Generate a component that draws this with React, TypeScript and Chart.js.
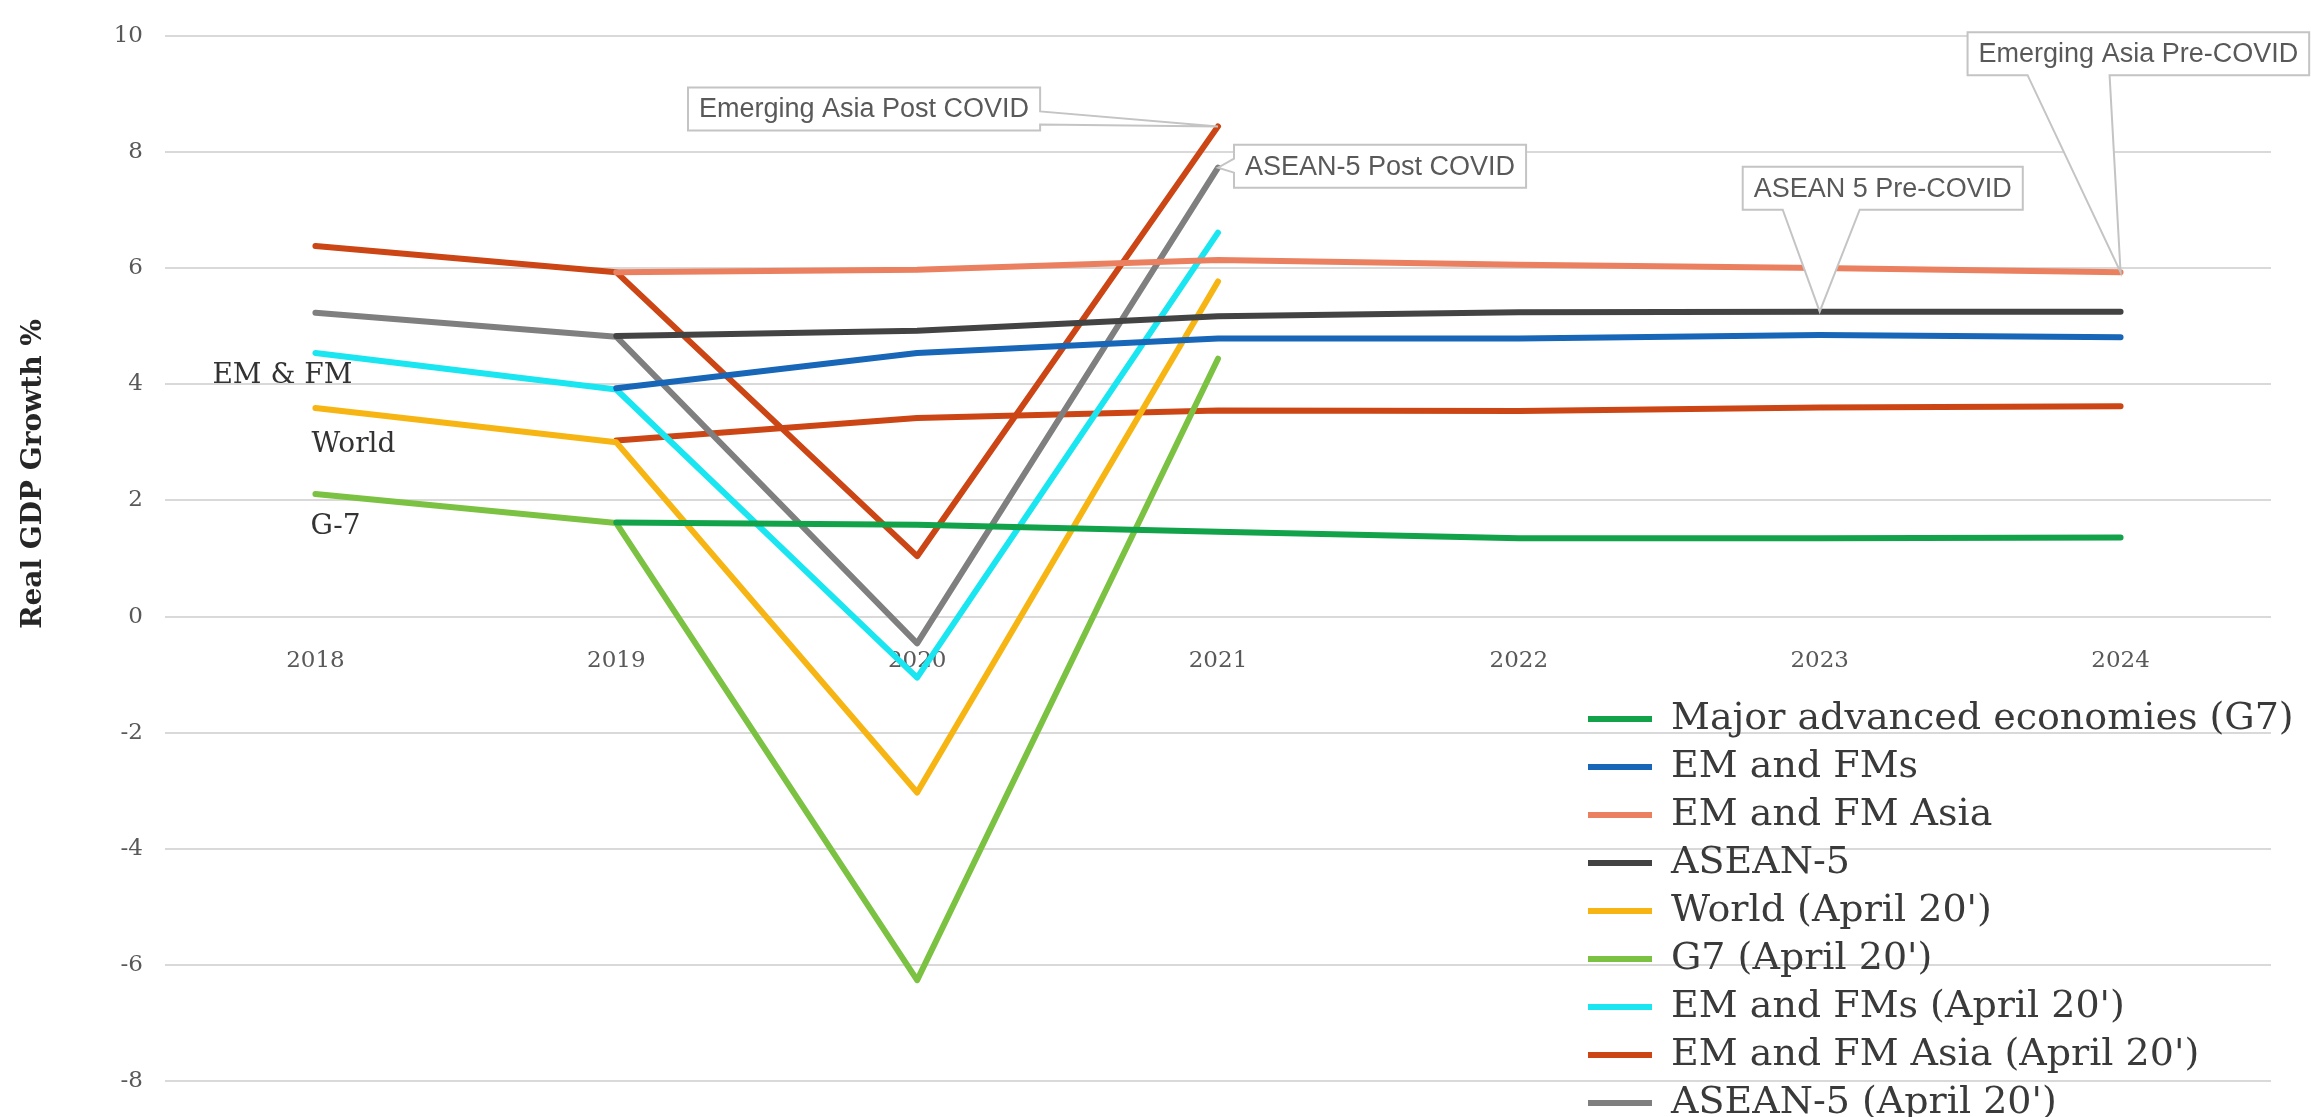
import React, { useEffect, useRef } from 'react';
import { Chart, registerables } from 'chart.js';

Chart.register(...registerables);

// ---------- data ----------
const categories = ['2018', '2019', '2020', '2021', '2022', '2023', '2024'];
const yMin = -8;
const yMax = 10;
const yStep = 2;

const seriesNames = [
  'Major advanced economies (G7)',
  'EM and FMs',
  'EM and FM Asia',
  'ASEAN-5',
  "World (April 20')",
  "G7 (April 20')",
  "EM and FMs (April 20')",
  "EM and FM Asia (April 20')",
  "ASEAN-5 (April 20')",
  'World',
];

const g7Current = [null, 1.62, 1.58, 1.46, 1.35, 1.35, 1.36];
const emfmCurrent = [null, 3.93, 4.54, 4.79, 4.79, 4.85, 4.81];
const emfmAsiaCurrent = [null, 5.93, 5.97, 6.14, 6.06, 6.0, 5.93];
const asean5Current = [null, 4.83, 4.92, 5.17, 5.24, 5.25, 5.25];
const worldApril = [3.59, 3.0, -3.03, 5.77, null, null, null];
const g7April = [2.11, 1.61, -6.26, 4.44, null, null, null];
const emfmApril = [4.54, 3.91, -1.05, 6.61, null, null, null];
const emfmAsiaApril = [6.38, 5.93, 1.04, 8.44, null, null, null];
const asean5April = [5.23, 4.82, -0.46, 7.73, null, null, null];
const worldCurrent = [null, 3.03, 3.42, 3.55, 3.54, 3.6, 3.62];

const seriesValues = [
  g7Current,
  emfmCurrent,
  emfmAsiaCurrent,
  asean5Current,
  worldApril,
  g7April,
  emfmApril,
  emfmAsiaApril,
  asean5April,
  worldCurrent,
];

const calloutTexts = ['Emerging Asia Post COVID', 'ASEAN-5 Post COVID', 'ASEAN 5 Pre-COVID', 'Emerging Asia Pre-COVID'];
const calloutSeries = [7, 8, 3, 2];
const calloutCategory = [3, 3, 5, 6];

const inlineLabelTexts = ['EM & FM', 'World', 'G-7'];
const yAxisTitle = 'Real GDP Growth %';

// ---------- styles ----------
const seriesColors = [
  '#12a24a',
  '#1866b8',
  '#ea8060',
  '#434343',
  '#f6b512',
  '#7cc242',
  '#19e6f0',
  '#cc4514',
  '#7f7f7f',
  '#cc4514',
];

const W = 2311;
const H = 1117;
const SERIF = '"DejaVu Serif", serif';
const SANS = '"Liberation Sans", Arial, sans-serif';

// callout box placement relative to its target point (px)
const calloutLayout = [
  { dx: -530, dy: -39, side: 'right', a: 24, b: 37 },
  { dx: 16, dy: -23, side: 'left', a: 14, b: 28 },
  { dx: -77, dy: -145, side: 'bottom', a: 40, b: 117 },
  { dx: -153, dy: -240, side: 'bottom', a: 60, b: 142 },
];
const inlineLabelLayout = [
  { dx: -103, v: 4.03 },
  { dx: -4, v: 2.84 },
  { dx: -5, v: 1.42 },
];

const annotationsPlugin = {
  id: 'annotationsPlugin',
  afterLayout(chart: any) {
    const l = chart.legend;
    if (l) {
      l.left = 1578;
      l.top = 690;
      l.right = W;
      l.bottom = H + 200;
      l.width = l.right - l.left;
      l.height = l.bottom - l.top;
    }
  },
  beforeDatasetsDraw(chart: any) {
    const ctx = chart.ctx;
    const xs = chart.scales.x;
    const ys = chart.scales.y;
    ctx.save();
    // y axis title
    ctx.translate(34, 474);
    ctx.rotate(-Math.PI / 2);
    ctx.font = `bold 28px ${SERIF}`;
    ctx.fillStyle = '#262626';
    ctx.textAlign = 'center';
    ctx.textBaseline = 'middle';
    ctx.fillText(yAxisTitle, 0, 0);
    ctx.restore();

    ctx.save();
    ctx.font = `28px ${SERIF}`;
    ctx.fillStyle = '#333333';
    ctx.textAlign = 'left';
    ctx.textBaseline = 'alphabetic';
    const x0 = xs.getPixelForValue(0);
    inlineLabelTexts.forEach((t, i) => {
      const p = inlineLabelLayout[i];
      ctx.fillText(t, x0 + p.dx, ys.getPixelForValue(p.v));
    });
    ctx.restore();
  },
  afterDatasetsDraw(chart: any) {
    const ctx = chart.ctx;
    const xs = chart.scales.x;
    const ys = chart.scales.y;
    ctx.save();
    ctx.font = `27px ${SANS}`;
    calloutTexts.forEach((text, i) => {
      const val = seriesValues[calloutSeries[i]][calloutCategory[i]] as number;
      const tx = xs.getPixelForValue(calloutCategory[i]);
      const ty = ys.getPixelForValue(val);
      const L = calloutLayout[i];
      const bw = ctx.measureText(text).width + 22;
      const bh = 43;
      const left = tx + L.dx;
      const top = ty + L.dy;
      const right = left + bw;
      const bottom = top + bh;
      ctx.beginPath();
      ctx.moveTo(left, top);
      ctx.lineTo(right, top);
      if (L.side === 'right') {
        ctx.lineTo(right, top + L.a);
        ctx.lineTo(tx, ty);
        ctx.lineTo(right, top + L.b);
      }
      ctx.lineTo(right, bottom);
      if (L.side === 'bottom') {
        ctx.lineTo(left + L.b, bottom);
        ctx.lineTo(tx, ty);
        ctx.lineTo(left + L.a, bottom);
      }
      ctx.lineTo(left, bottom);
      if (L.side === 'left') {
        ctx.lineTo(left, top + L.b);
        ctx.lineTo(tx, ty);
        ctx.lineTo(left, top + L.a);
      }
      ctx.closePath();
      ctx.fillStyle = '#ffffff';
      ctx.fill();
      ctx.strokeStyle = '#c4c4c4';
      ctx.lineWidth = 2;
      ctx.lineJoin = 'miter';
      ctx.stroke();
      ctx.fillStyle = '#595959';
      ctx.textAlign = 'left';
      ctx.textBaseline = 'middle';
      ctx.fillText(text, left + 11, top + bh / 2 + 1);
    });
    ctx.restore();
  },
};

export default function App() {
  const canvasRef = useRef<HTMLCanvasElement | null>(null);

  useEffect(() => {
    document.body.style.margin = '0';
    const canvas = canvasRef.current;
    if (!canvas) return;

    const datasets = seriesNames.map((name, i) => ({
      label: name,
      data: seriesValues[i],
      borderColor: seriesColors[i],
      backgroundColor: seriesColors[i],
      borderWidth: 6,
      borderCapStyle: 'round' as const,
      borderJoinStyle: 'round' as const,
      pointRadius: 0,
      pointHoverRadius: 0,
      tension: 0,
      spanGaps: false,
      fill: false,
    }));

    const chart = new Chart(canvas, {
      type: 'line',
      data: { labels: categories, datasets },
      options: {
        animation: false,
        responsive: false,
        devicePixelRatio: 1,
        layout: { padding: { top: 25, right: 40, bottom: 16, left: 0 } },
        plugins: {
          legend: {
            position: 'chartArea' as any,
            align: 'start',
            labels: {
              usePointStyle: true,
              pointStyle: 'line',
              pointStyleWidth: 64,
              padding: 10,
              color: '#3a3a3a',
              font: { family: SERIF, size: 38 },
              filter: (item: any) => item.datasetIndex !== 9,
            },
          },
          tooltip: { enabled: false },
          title: { display: false },
        },
        scales: {
          x: {
            position: { y: 0 } as any,
            offset: true,
            grid: { display: false, drawTicks: false },
            border: { display: false },
            ticks: {
              color: '#595959',
              font: { family: SERIF, size: 23 },
              padding: 31,
              maxRotation: 0,
              autoSkip: false,
            },
          },
          y: {
            min: yMin,
            max: yMax,
            afterFit: (s: any) => {
              s.width = 165;
            },
            grid: { color: '#d9d9d9', lineWidth: 2, drawTicks: false },
            border: { display: false },
            ticks: {
              stepSize: yStep,
              color: '#595959',
              font: { family: SERIF, size: 23 },
              padding: 22,
            },
          },
        },
      },
      plugins: [annotationsPlugin],
    });

    return () => {
      chart.destroy();
    };
  }, []);

  return (
    <div style={{ width: W, height: H, background: '#ffffff' }}>
      <canvas ref={canvasRef} width={W} height={H} style={{ display: 'block', width: W, height: H }} />
    </div>
  );
}
